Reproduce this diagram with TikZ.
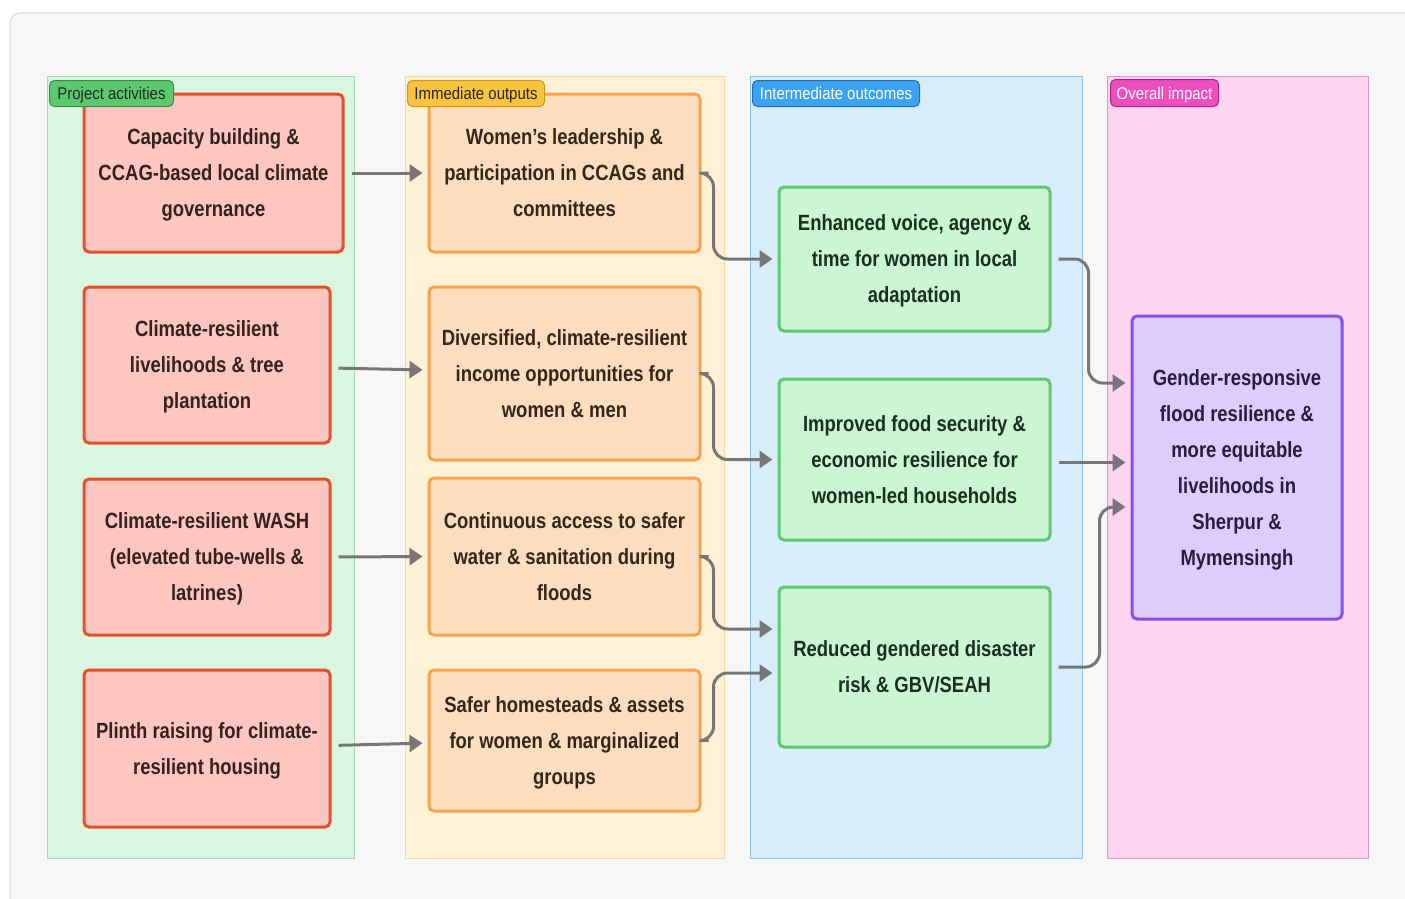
\documentclass[tikz,border=0pt]{standalone}
\usepackage{fontspec}
\setmainfont{Liberation Sans}[FakeStretch=0.84]
\newfontfamily\tagfont{Liberation Sans}[FakeStretch=0.88]
\usetikzlibrary{arrows.meta}
\definecolor{panelbg}{HTML}{F7F7F7}
\definecolor{panelln}{HTML}{DDDDDD}
\definecolor{c1fill}{HTML}{DAF5E0}\definecolor{c1line}{HTML}{A3DDB0}
\definecolor{c2fill}{HTML}{FEF1D6}\definecolor{c2line}{HTML}{F7D99A}
\definecolor{c3fill}{HTML}{D7EDFC}\definecolor{c3line}{HTML}{8CC3E6}
\definecolor{c4fill}{HTML}{FDD5F1}\definecolor{c4line}{HTML}{DA9AD0}
\definecolor{redfill}{HTML}{FDC6C1}\definecolor{redline}{HTML}{E4512C}
\definecolor{orfill}{HTML}{FDDDBF}\definecolor{orline}{HTML}{F7A24D}
\definecolor{grfill}{HTML}{CCF5D4}\definecolor{grline}{HTML}{5CCB6E}
\definecolor{pufill}{HTML}{DDCCFC}\definecolor{puline}{HTML}{8452E8}
\definecolor{arrcol}{HTML}{777777}
\definecolor{tgfill}{HTML}{5DC96E}\definecolor{tgline}{HTML}{3A8A48}
\definecolor{tyfill}{HTML}{FAC43E}\definecolor{tyline}{HTML}{C89A20}
\definecolor{tbfill}{HTML}{3DA2F2}\definecolor{tbline}{HTML}{1F6FB0}
\definecolor{tpfill}{HTML}{F04DC1}\definecolor{tpline}{HTML}{A8288A}
\definecolor{txtred}{HTML}{33221F}
\definecolor{txtor}{HTML}{33271C}
\definecolor{txtgr}{HTML}{1A2E21}
\definecolor{txtpu}{HTML}{261E3A}
\tikzset{
  column/.style={line width=1pt},
  boxbase/.style={rectangle, rounded corners=5pt, line width=3pt, align=center,
    inner sep=0pt, text depth=-7pt, font=\fontsize{22}{36}\selectfont\bfseries},
  actbox/.style={boxbase, draw=redline, fill=redfill, text=txtred},
  outbox/.style={boxbase, draw=orline, fill=orfill, text=txtor},
  midbox/.style={boxbase, draw=grline, fill=grfill, text=txtgr},
  impbox/.style={boxbase, draw=puline, fill=pufill, text=txtpu},
  tagbox/.style={rectangle, rounded corners=5pt, line width=1pt, inner sep=0pt,
    text height=12pt, text depth=-2pt,
    font=\tagfont\fontsize{17}{18}\selectfont, anchor=north west},
  arr/.style={draw=arrcol, line width=3pt, -{Triangle[length=13pt,width=17pt]},
    shorten <=7pt, shorten >=5pt},
  bent/.style={arr, rounded corners=14pt, shorten <=0pt}
}
\begin{document}
\begin{tikzpicture}[x=1pt,y=-1pt]
\path[use as bounding box] (0,0) rectangle (1405,898);
\begin{scope}
\clip (0,0) rectangle (1405,898);
\draw[panelln, fill=panelbg, line width=1.2pt, rounded corners=10pt] (10,13) rectangle (1430,920);
\end{scope}
% columns
\draw[column, draw=c1line, fill=c1fill] (47,76) rectangle (354,858);
\draw[column, draw=c2line, fill=c2fill] (405,76) rectangle (724,858);
\draw[column, draw=c3line, fill=c3fill] (750,76) rectangle (1082,858);
\draw[column, draw=c4line, fill=c4fill] (1107,76) rectangle (1368,858);
% boxes
\node[actbox, minimum width=259pt, minimum height=158pt] (a1) at (213.5,173) {Capacity building \&\\CCAG-based local climate\\governance};
\node[actbox, minimum width=246pt, minimum height=156pt] (a2) at (207,365) {Climate-resilient\\livelihoods \& tree\\plantation};
\node[actbox, minimum width=246pt, minimum height=156pt] (a3) at (207,557) {Climate-resilient WASH\\(elevated tube-wells \&\\latrines)};
\node[actbox, minimum width=246pt, minimum height=157pt] (a4) at (207,748.5) {Plinth raising for climate-\\resilient housing};
\node[outbox, minimum width=271pt, minimum height=158pt] (b1) at (564.5,173) {Women’s leadership \&\\participation in CCAGs and\\committees};
\node[outbox, minimum width=271pt, minimum height=173pt] (b2) at (564.5,373.5) {Diversified, climate-resilient\\income opportunities for\\women \& men};
\node[outbox, minimum width=271pt, minimum height=157pt] (b3) at (564.5,556.5) {Continuous access to safer\\water \& sanitation during\\floods};
\node[outbox, minimum width=271pt, minimum height=141pt] (b4) at (564.5,740.5) {Safer homesteads \& assets\\for women \& marginalized\\groups};
\node[midbox, minimum width=271pt, minimum height=144pt] (c1) at (914.5,259) {Enhanced voice, agency \&\\time for women in local\\adaptation};
\node[midbox, minimum width=271pt, minimum height=161pt] (c2) at (914.5,459.5) {Improved food security \&\\economic resilience for\\women-led households};
\node[midbox, minimum width=271pt, minimum height=160pt] (c3) at (914.5,667) {Reduced gendered disaster\\risk \& GBV/SEAH};
\node[impbox, minimum width=210pt, minimum height=303pt] (d) at (1237,467.5) {Gender-responsive\\flood resilience \&\\more equitable\\livelihoods in\\Sherpur \&\\Mymensingh};
% tags
\node[tagbox, draw=tgline, fill=tgfill, text=black!85, minimum width=124pt, minimum height=26pt] (t1) at (49,80) {Project activities};
\node[tagbox, draw=tyline, fill=tyfill, text=black!85, minimum width=137pt, minimum height=26pt] (t2) at (407,80) {Immediate outputs};
\node[tagbox, draw=tbline, fill=tbfill, text=white, minimum width=167pt, minimum height=26pt] (t3) at (752,80) {Intermediate outcomes};
\node[tagbox, draw=tpline, fill=tpfill, text=white, minimum width=108pt, minimum height=27pt] (t4) at (1110,79) {Overall impact};
% straight connectors
\draw[arr] (a1.east) -- (b1.west);
\draw[arr] ([yshift=-3pt]a2.east) -- ([yshift=3.5pt]b2.west);
\draw[arr] (a3.east) -- (b3.west);
\draw[arr] ([yshift=3pt]a4.east) -- ([yshift=-2.5pt]b4.west);
\draw[arr] ([yshift=-3pt]c2.east) -- ([yshift=-3pt]c2.east -| d.west);
% bent connectors
\draw[bent] ([xshift=7pt]b1.east) -- ([xshift=12pt]b1.east) -- ([xshift=12pt]b1.east |- c1.west) -- (c1.west);
\draw[bent] ([xshift=7pt]b2.east) -- ([xshift=12pt]b2.east) -- ([xshift=12pt]b2.east |- c2.west) -- (c2.west);
\draw[bent] ([xshift=7pt]b3.east) -- ([xshift=12pt]b3.east) -- ([xshift=12pt,yshift=38pt]b3.east |- c3.west) -- ([yshift=38pt]c3.west);
\draw[bent] ([xshift=7pt]b4.east) -- ([xshift=12pt]b4.east) -- ([xshift=12pt,yshift=-6pt]b4.east |- c3.west) -- ([yshift=-6pt]c3.west);
\draw[bent] ([xshift=7pt]c1.east) -- ([xshift=37pt]c1.east) -- ([xshift=37pt,yshift=84.5pt]c1.east |- d.west) -- ([yshift=84.5pt]d.west);
\draw[bent] ([xshift=7pt]c3.east) -- ([xshift=48pt]c3.east) -- ([xshift=48pt,yshift=-39.5pt]c3.east |- d.west) -- ([yshift=-39.5pt]d.west);
\end{tikzpicture}
\end{document}
